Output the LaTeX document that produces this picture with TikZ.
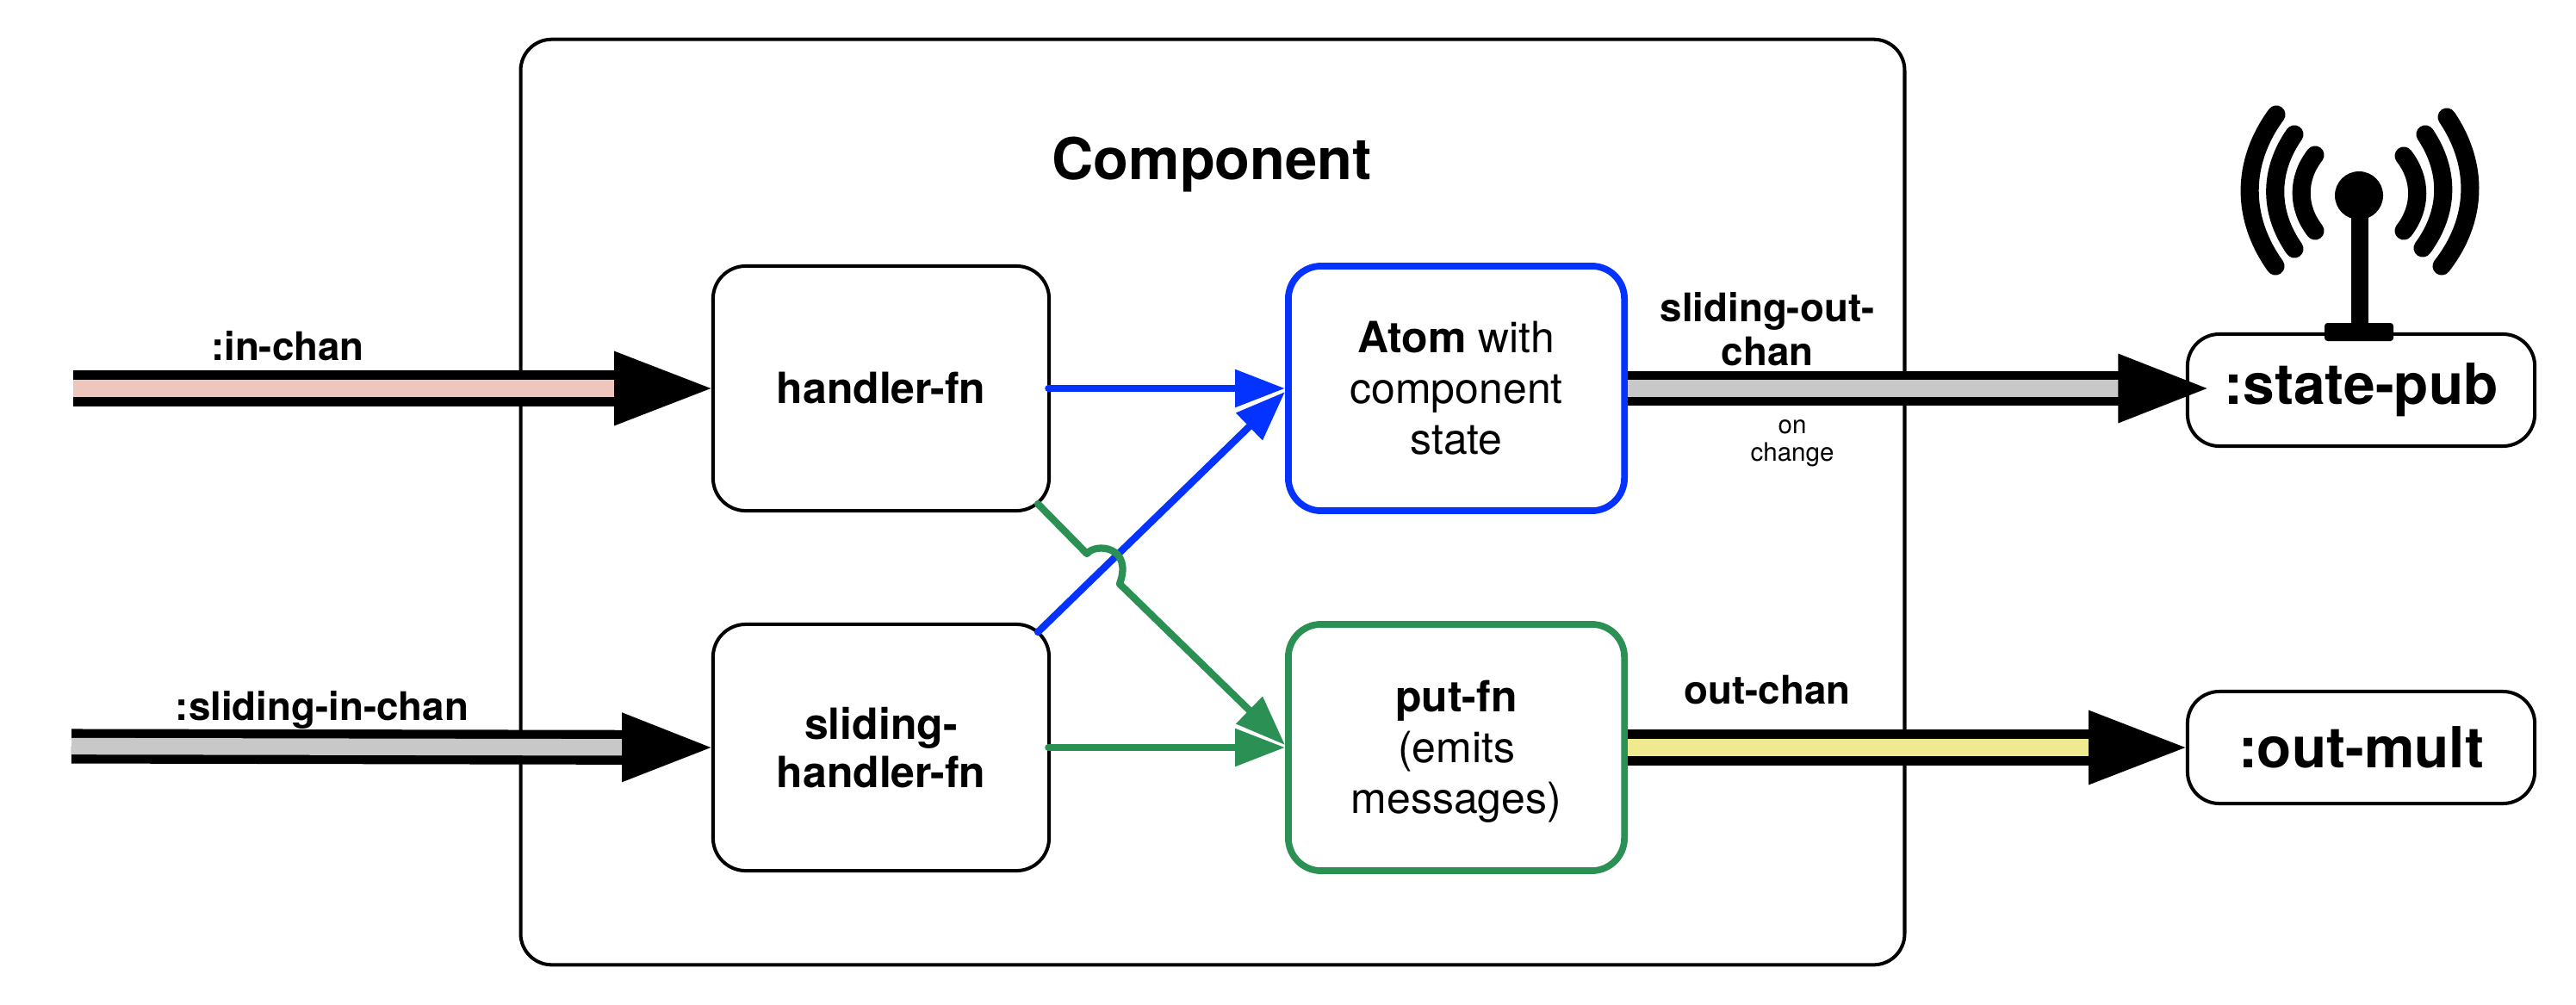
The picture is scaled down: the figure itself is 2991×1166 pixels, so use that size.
\documentclass[tikz,border=0pt]{standalone}
\usepackage{fontspec}
\setmainfont{TeX Gyre Heros}
\usepackage{xcolor}
\usetikzlibrary{arrows.meta}
\definecolor{atomblue}{HTML}{0433FF}
\definecolor{putgreen}{HTML}{2A9053}
\definecolor{inpink}{HTML}{EEC6BE}
\definecolor{slidegray}{HTML}{C8C8C8}
\definecolor{outyellow}{HTML}{EFE98F}
\tikzset{
	fnbox/.style={draw=black, line width=1.14pt, rectangle, rounded corners=0.38cm, inner sep=0pt, align=center, minimum width=3.9cm, font=\fontsize{14.2}{16.8}\selectfont},
	atombox/.style={fnbox, line width=2.2pt},
	pubbox/.style={fnbox, rounded corners=0.37cm, minimum width=4.03cm, minimum height=1.3cm, font=\bfseries\fontsize{18.7}{20}\selectfont},
	chanlabel/.style={inner sep=0pt, align=center, font=\bfseries\fontsize{13}{14.5}\selectfont},
	chanarrow/.style={line width=2.95pt, double distance=5.9pt, double=#1, -{Triangle[length=32.1pt, width=23.9pt]}},
	slidearrow/.style={chanarrow=slidegray, double distance=5.5pt, -{Triangle[length=29.5pt, width=22.2pt]}},
	linkarrow/.style={draw=#1, line width=2.35pt, line cap=round, line join=round, -{Triangle[length=16.5pt, width=12pt, fill=#1]}},
	waveline/.style={line width=6pt, line cap=round},
}
\begin{document}
\begin{tikzpicture}[x=0.01cm, y=-0.01cm]
	% Boxes, channels and links:
	\useasboundingbox (0, 0) rectangle (2991, 1166);
	\node[draw, line width=1.14pt, rectangle, rounded corners=0.36cm, inner sep=0pt, minimum width=16.06cm, minimum height=10.74cm](component) at (1408, 583){};
	\node[font=\bfseries\fontsize{19}{21}\selectfont, inner sep=0pt](title) at (1407, 191){Component};
	\node[fnbox, minimum height=2.84cm](handler) at (1023, 451){\textbf{handler-fn}};
	\node[fnbox, minimum height=2.86cm, font=\fontsize{14.2}{15.8}\selectfont](sliding) at (1023, 868){\textbf{sliding-}\\\textbf{handler-fn}};
	\node[atombox, draw=atomblue, minimum height=2.84cm](atom) at (1691, 451){\textbf{Atom} with\\component\\state};
	\node[atombox, draw=putgreen, minimum height=2.86cm](putfn) at (1691, 868){};
	\node[inner sep=0pt, align=center, font=\fontsize{14.2}{16.8}\selectfont](putlabel) at (1691, 873){\textbf{put-fn}\\(emits\\messages)};
	\node[pubbox](statepub) at (2741.5, 453){:state-pub};
	\node[pubbox](outmult) at (2741.5, 868){:out-mult};
	\coordinate (inchan) at (85, 451);
	\coordinate (slidingchan) at (83, 866.5);
	\coordinate (statetip) at (2563, 451);
	\coordinate (slidingcorner) at (1205, 734);
	\coordinate (handlercorner) at (1205, 585);
	\coordinate (atomin) at (1492, 455);
	\coordinate (putin) at (1492, 865);
	\coordinate (atomout) at (atom.east |- statetip);
	% antenna
	\draw[line width=5.7pt] (2740, 227) -- (2740, 385);
	\fill (2739, 227) circle (28);
	\fill[rounded corners=1pt] (2699, 375) rectangle (2779, 396);
	\draw[waveline] (2688, 180) to[bend right=38] (2688, 268);
	\draw[waveline] (2664, 156) to[bend right=35] (2664, 289);
	\draw[waveline] (2643, 133) to[bend right=36] (2642, 309);
	\draw[waveline] (2791, 181) to[bend left=38] (2791, 268);
	\draw[waveline] (2816, 156) to[bend left=35] (2813, 288);
	\draw[waveline] (2841, 136) to[bend left=36] (2835, 309);
	% channels
	\draw[chanarrow=inpink] (inchan) -- (handler.west);
	\draw[slidearrow] (slidingchan) -- (sliding.west);
	\draw[slidearrow] (atomout) -- (statetip);
	\draw[chanarrow=outyellow] (putfn.east) -- (outmult.west);
	\node[chanlabel](inlabel) at (334, 402){:in-chan};
	\node[chanlabel](slidinglabel) at (374, 824){:sliding-in-chan};
	\node[chanlabel](stateoutlabel) at (2052, 382){sliding-out-\\chan};
	\node[chanlabel](outlabel) at (2052, 801){out-chan};
	\node[inner sep=0pt, align=center, font=\fontsize{8.4}{9}\selectfont](changelabel) at (2081, 515){on\\change};
	% links
	\draw[linkarrow=atomblue, shorten <=-0.8pt] (handler.east) -- (atom.west);
	\draw[linkarrow=atomblue] (slidingcorner) -- (atomin);
	\draw[linkarrow=putgreen, shorten <=-0.8pt] (sliding.east) -- (putfn.west);
	\draw[linkarrow=putgreen] (handlercorner) -- (1262, 643) .. controls (1272, 630) and (1316, 634) .. (1300, 678) -- (putin);
\end{tikzpicture}
\end{document}
